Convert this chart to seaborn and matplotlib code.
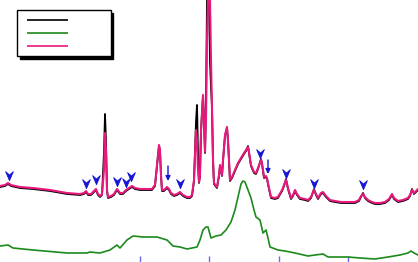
import numpy as np
import pandas as pd
import matplotlib
matplotlib.use("Agg")
import matplotlib.pyplot as plt
from matplotlib.path import Path
from matplotlib.lines import Line2D
import seaborn as sns

# ---- data (arbitrary channel units / intensity) ----
shift = [0, 5, 8, 11, 20, 33, 50, 67, 80, 84, 86, 88, 91, 94, 96, 98, 100, 102, 104, 105, 106, 107, 108,
         111, 114, 117, 120, 123, 126, 129, 132, 135, 140, 147, 152, 155, 157, 159, 160, 161, 162, 164,
         167, 169, 171, 174, 177, 180, 183, 187, 190, 192, 194, 196, 197, 198, 199, 200, 201, 203, 204,
         205, 206, 207, 208, 209, 210, 211, 212, 213, 214, 217, 219, 220, 222, 223, 225, 227, 228, 230,
         232, 235, 238, 241, 244, 246, 248, 249, 251, 254, 256, 258, 261, 262, 264, 266, 267, 269, 271,
         275, 278, 282, 284, 286, 288, 291, 293, 295, 297, 300, 305, 308, 311, 314, 316, 318, 321, 323,
         326, 330, 335, 341, 350, 355, 359, 361, 363, 365, 368, 372, 375, 380, 385, 389, 392, 394, 398,
         403, 408, 410, 412, 414, 416, 418]

pink = [76, 77, 79, 77, 75, 74, 72, 69, 68, 69, 71, 68, 68, 71, 73, 68, 66, 68, 92, 129, 112, 72, 65,
        66, 68, 73, 69, 69, 72, 74, 76, 74, 73, 73, 73, 77, 97, 117, 112, 87, 72, 72,
        75, 73, 69, 67, 68, 70, 67, 65, 65, 67, 82, 132, 122, 92, 80, 87, 132, 167, 142,
        110, 142, 222, 262, 322, 262, 202, 155, 102, 79, 75, 87, 97, 87, 102, 127, 135, 122, 82,
        85, 92, 99, 104, 109, 112, 115, 110, 97, 90, 89, 94, 102, 99, 85, 86, 84, 74, 65,
        64, 65, 72, 77, 82, 74, 64, 67, 72, 68, 64, 63, 62, 65, 72, 68, 64, 69, 70,
        66, 62, 61, 60, 60, 60, 62, 66, 68, 65, 62, 60, 59, 59, 60, 63, 68, 64, 61,
        62, 64, 67, 72, 69, 71, 73]

black = [75, 76, 78, 76, 74, 73, 71, 68, 67, 68, 70, 67, 67, 70, 72, 67, 65, 67, 110, 148, 120, 71, 64,
         65, 67, 72, 68, 68, 71, 73, 75, 73, 72, 72, 72, 76, 96, 116, 111, 86, 71, 71,
         74, 72, 68, 66, 67, 69, 66, 64, 64, 66, 81, 140, 157, 110, 79, 86, 131, 166, 141,
         109, 160, 262, 330, 262, 200, 175, 155, 101, 78, 74, 86, 96, 86, 101, 126, 134, 121, 81,
         84, 91, 98, 103, 108, 111, 116, 109, 96, 89, 88, 93, 103, 98, 84, 85, 83, 73, 64,
         63, 64, 71, 76, 83, 73, 63, 66, 71, 67, 63, 62, 61, 64, 73, 67, 63, 68, 69,
         65, 61, 60, 59, 59, 59, 61, 65, 69, 64, 61, 59, 58, 58, 59, 62, 67, 63, 60,
         61, 63, 66, 73, 68, 70, 72]

green_shift = [0, 8, 13, 33, 67, 87, 90, 100, 110, 117, 120, 127, 133, 143, 157, 167, 173, 180, 187,
               197, 200, 203, 206, 208, 211, 216, 221, 226, 231, 235, 238, 241, 243, 245, 248, 251,
               254, 256, 260, 263, 266, 268, 270, 278, 285, 295, 308, 315, 323, 328, 348, 360, 375,
               388, 400, 408, 411, 414, 418]
green = [16, 17, 14, 12, 9, 9, 10, 9, 12, 17, 14, 22, 26, 25, 25, 22, 16, 15, 13,
         15, 22, 32, 35, 35, 24, 26, 27, 32, 40, 52, 65, 78, 81, 80, 72, 64,
         52, 45, 42, 29, 32, 24, 15, 12, 11, 9, 6, 7, 8, 5, 5, 4, 3,
         5, 7, 9, 11, 9, 7]

# marked peaks (arrowhead markers)
mark_x = [9, 86, 96, 117, 126, 131, 180, 260, 286, 314, 363]
mark_y = [87, 79, 83, 81, 80, 86, 79, 109, 89, 79, 78]
# marked peaks with shafted arrows: (x, tip, tail)
arrow_x = [168, 268]
arrow_tip = [81, 88]
arrow_tail = [96, 102]

tick_pos = [139.5, 209, 278.5, 348]

PINK = "#E8197D"
GREEN = "#1B8A1B"
BLUE = "#1414D2"

sns.set_style("white")
fig = plt.figure(figsize=(4.18, 2.62), dpi=100)
ax = fig.add_axes([0, 0, 1, 1])

df = pd.DataFrame({"shift": shift, "pink": pink, "black": black})
gdf = pd.DataFrame({"shift": green_shift, "green": green})

sns.lineplot(data=df, x="shift", y="black", ax=ax, color="black", lw=1.3, estimator=None, sort=False)
sns.lineplot(data=gdf, x="shift", y="green", ax=ax, color=GREEN, lw=1.2, estimator=None, sort=False)
sns.lineplot(data=df, x="shift", y="pink", ax=ax, color=PINK, lw=1.5, estimator=None, sort=False)

# stealth arrowhead marker pointing down
head = Path([(0, -1), (-0.75, 0.75), (0, 0.1), (0.75, 0.75), (0, -1)],
            [Path.MOVETO, Path.LINETO, Path.LINETO, Path.LINETO, Path.CLOSEPOLY])
mdf = pd.DataFrame({"x": mark_x, "y": mark_y})
sns.scatterplot(data=mdf, x="x", y="y", ax=ax, marker=head, s=55, color=BLUE, edgecolor=BLUE,
                linewidth=0.6, zorder=5)
for xa, tip, tail in zip(arrow_x, arrow_tip, arrow_tail):
    ax.annotate("", xy=(xa, tip), xytext=(xa, tail),
                arrowprops=dict(arrowstyle="-|>", color=BLUE, lw=1.0, mutation_scale=7,
                                shrinkA=0, shrinkB=0), zorder=5)

ax.set_xlim(0, 418)
ax.set_ylim(0, 262)
for s in ax.spines.values():
    s.set_visible(False)
ax.set_xticks(tick_pos)
ax.set_xticklabels([])
ax.set_yticks([])
ax.tick_params(axis="x", direction="in", length=4, width=1, color="#6A6AEE", bottom=True, pad=0)
ax.set_xlabel("")
ax.set_ylabel("")

# legend handles: a short leading gap, then the sample line
lw_h = 1.2
gap, seg, tail_gap = 3.0, 24.6, 30.0
handle_ls = (seg + tail_gap - gap, (seg, tail_gap))
handles = [Line2D([], [], color="black", lw=lw_h, linestyle=handle_ls),
           Line2D([], [], color=GREEN, lw=lw_h, linestyle=handle_ls),
           Line2D([], [], color=PINK, lw=lw_h, linestyle=handle_ls)]
labels = ["\u2007" * 6] * 3
leg = ax.legend(handles, labels, loc="upper left", bbox_to_anchor=(0.041, 0.962),
                borderaxespad=0, fontsize=5.5, handlelength=6.0, labelspacing=0.53,
                borderpad=0.7, handletextpad=1.0,
                fancybox=False, framealpha=1, edgecolor="black",
                shadow={"color": "black", "alpha": 1})
leg.get_frame().set_linewidth(1.0)

fig.savefig("out.png", dpi=100)
